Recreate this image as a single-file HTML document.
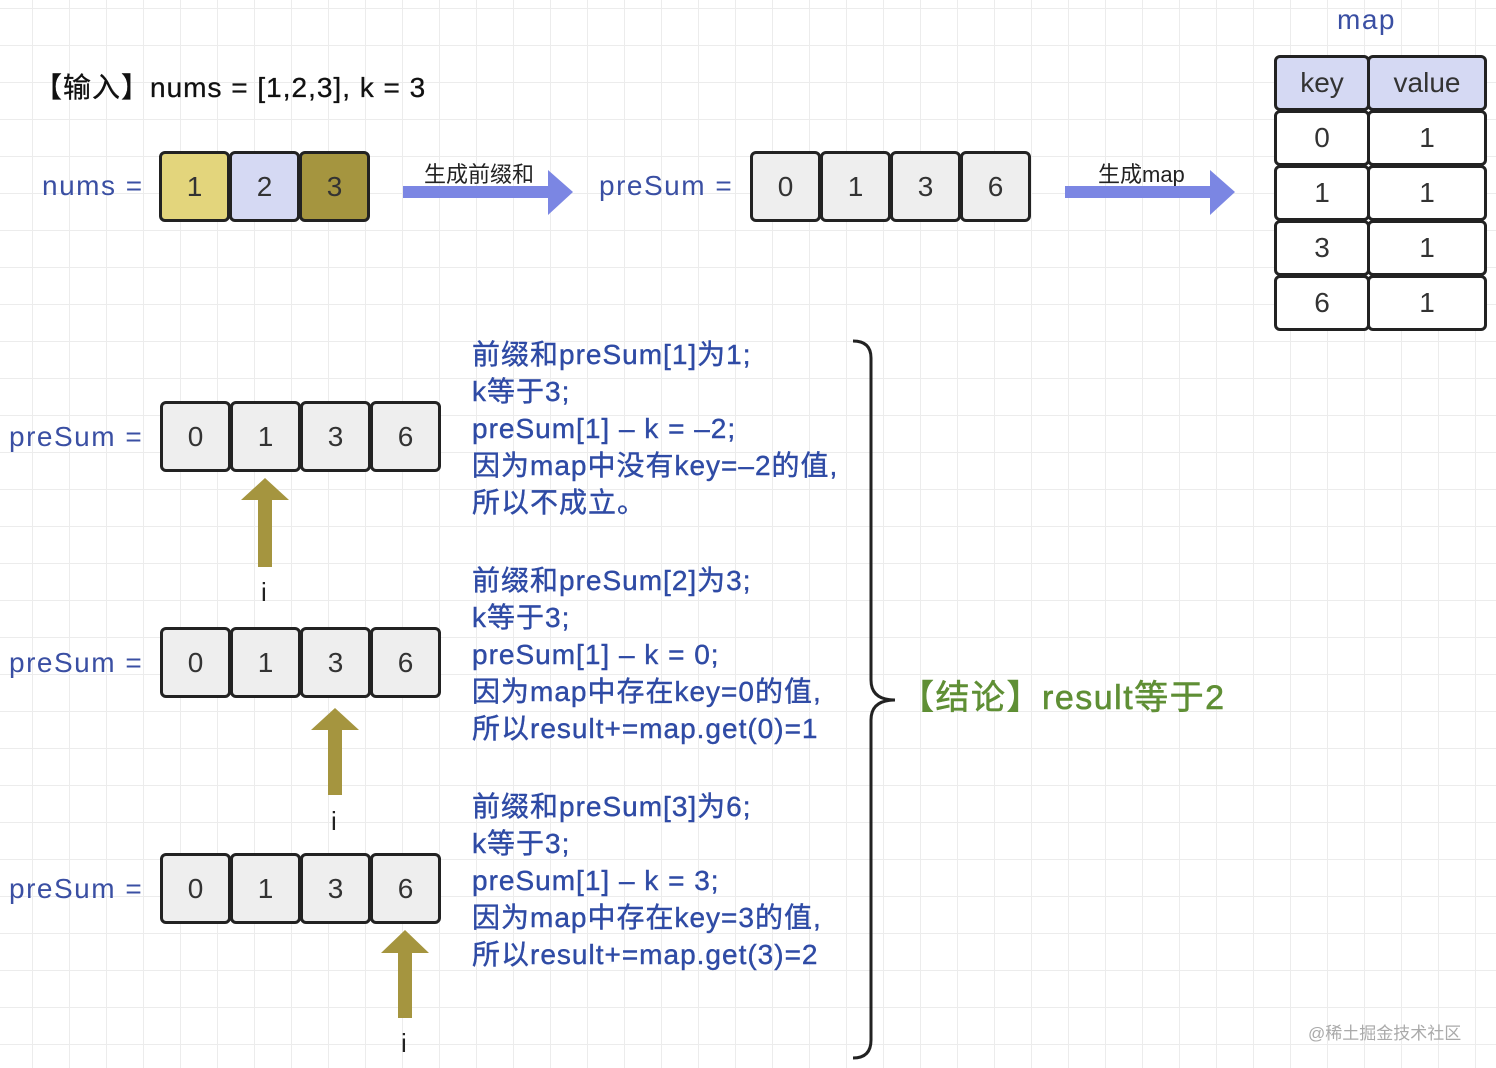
<!DOCTYPE html>
<html><head><meta charset="utf-8"><style>
body{margin:0;width:1496px;height:1068px;overflow:hidden;background:#fff;
background-image:linear-gradient(#ececec 1px,transparent 1px),linear-gradient(90deg,#ececec 1px,transparent 1px);background-size:37px 37px;background-position:-5px 8px;
font-family:"Liberation Sans","Noto Sans CJK SC",sans-serif;position:relative}
.a{position:absolute;white-space:nowrap}
.b{position:absolute;width:65px;height:65px;border:3px solid #222;border-radius:6px;background:#eee;font-size:28px;color:#333;display:flex;align-items:center;justify-content:center;box-sizing:content-box}
.lbl{color:#3a4fa3;font-size:28px;letter-spacing:1.5px}
.txt{color:#2f4ba5;font-size:28px;line-height:37px;letter-spacing:1px;-webkit-text-stroke:0.4px #2f4ba5}
.c{position:absolute;border:3px solid #222;border-radius:6px;background:#fff;font-size:28px;color:#333;display:flex;align-items:center;justify-content:center}
.i{font-size:26px;color:#222}
</style></head><body>
<div class="a" style="left:34px;top:66px;font-size:28px;color:#111;letter-spacing:1px;-webkit-text-stroke:0.3px #111">【输入】nums = [1,2,3], k = 3</div>
<div class="a lbl" style="left:42px;top:170px">nums =</div>
<div class="b" style="left:159px;top:151px;background:#e3d57c">1</div>
<div class="b" style="left:229px;top:151px;background:#d5d9f3">2</div>
<div class="b" style="left:299px;top:151px;background:#a5953f">3</div>
<div class="a" style="left:424px;top:157px;font-size:22px;color:#222">生成前缀和</div>
<div class="a lbl" style="left:599px;top:170px">preSum =</div>
<div class="b" style="left:750px;top:151px">0</div><div class="b" style="left:820px;top:151px">1</div><div class="b" style="left:890px;top:151px">3</div><div class="b" style="left:960px;top:151px">6</div>
<div class="a" style="left:1098px;top:157px;font-size:22px;color:#222">生成map</div>
<svg class="a" style="left:0;top:0" width="1496" height="1068">
<polygon points="403,186 548,186 548,170 573,192 548,215 548,198 403,198" fill="#7b86e3"/>
<polygon points="1065,186 1210,186 1210,170 1235,192 1210,215 1210,198 1065,198" fill="#7b86e3"/>
<polygon points="258,567 272,567 272,500 289,500 265,478 241,500 258,500" fill="#a5953f"/>
<polygon points="328,795 342,795 342,730 359,730 335,708 311,730 328,730" fill="#a5953f"/>
<polygon points="398,1018 412,1018 412,953 429,953 405,930 381,953 398,953" fill="#a5953f"/>
<path d="M853,341 Q871,341 871,358 L871,680 Q871,700 895,700 Q871,700 871,720 L871,1040 Q871,1058 853,1058" fill="none" stroke="#222" stroke-width="3"/>
</svg>
<div class="a lbl" style="left:1337px;top:4px">map</div>
<div class="c" style="left:1274px;top:55px;width:90px;height:50px;background:#d5d9f3">key</div>
<div class="c" style="left:1367px;top:55px;width:114px;height:50px;background:#d5d9f3">value</div>
<div class="c" style="left:1274px;top:110px;width:90px;height:50px">0</div><div class="c" style="left:1367px;top:110px;width:114px;height:50px">1</div>
<div class="c" style="left:1274px;top:165px;width:90px;height:50px">1</div><div class="c" style="left:1367px;top:165px;width:114px;height:50px">1</div>
<div class="c" style="left:1274px;top:220px;width:90px;height:50px">3</div><div class="c" style="left:1367px;top:220px;width:114px;height:50px">1</div>
<div class="c" style="left:1274px;top:275px;width:90px;height:50px">6</div><div class="c" style="left:1367px;top:275px;width:114px;height:50px">1</div>

<div class="a lbl" style="left:9px;top:421px">preSum =</div>
<div class="b" style="left:160px;top:401px">0</div><div class="b" style="left:230px;top:401px">1</div><div class="b" style="left:300px;top:401px">3</div><div class="b" style="left:370px;top:401px">6</div>
<div class="a i" style="left:261px;top:577px">i</div>
<div class="a lbl" style="left:9px;top:647px">preSum =</div>
<div class="b" style="left:160px;top:627px">0</div><div class="b" style="left:230px;top:627px">1</div><div class="b" style="left:300px;top:627px">3</div><div class="b" style="left:370px;top:627px">6</div>
<div class="a i" style="left:331px;top:806px">i</div>
<div class="a lbl" style="left:9px;top:873px">preSum =</div>
<div class="b" style="left:160px;top:853px">0</div><div class="b" style="left:230px;top:853px">1</div><div class="b" style="left:300px;top:853px">3</div><div class="b" style="left:370px;top:853px">6</div>
<div class="a i" style="left:401px;top:1028px">i</div>

<div class="a txt" style="left:472px;top:336px">前缀和preSum[1]为1;<br>k等于3;<br>preSum[1] – k = –2;<br>因为map中没有key=–2的值,<br>所以不成立。</div>
<div class="a txt" style="left:472px;top:562px">前缀和preSum[2]为3;<br>k等于3;<br>preSum[1] – k = 0;<br>因为map中存在key=0的值,<br>所以result+=map.get(0)=1</div>
<div class="a txt" style="left:472px;top:788px">前缀和preSum[3]为6;<br>k等于3;<br>preSum[1] – k = 3;<br>因为map中存在key=3的值,<br>所以result+=map.get(3)=2</div>
<div class="a" style="left:900px;top:670px;font-size:34px;color:#5f8f35;letter-spacing:1.5px;-webkit-text-stroke:0.6px #5f8f35">【结论】result等于2</div>
<div class="a" style="left:1308px;top:1019px;font-size:17px;color:#aaa">@稀土掘金技术社区</div>
</body></html>
